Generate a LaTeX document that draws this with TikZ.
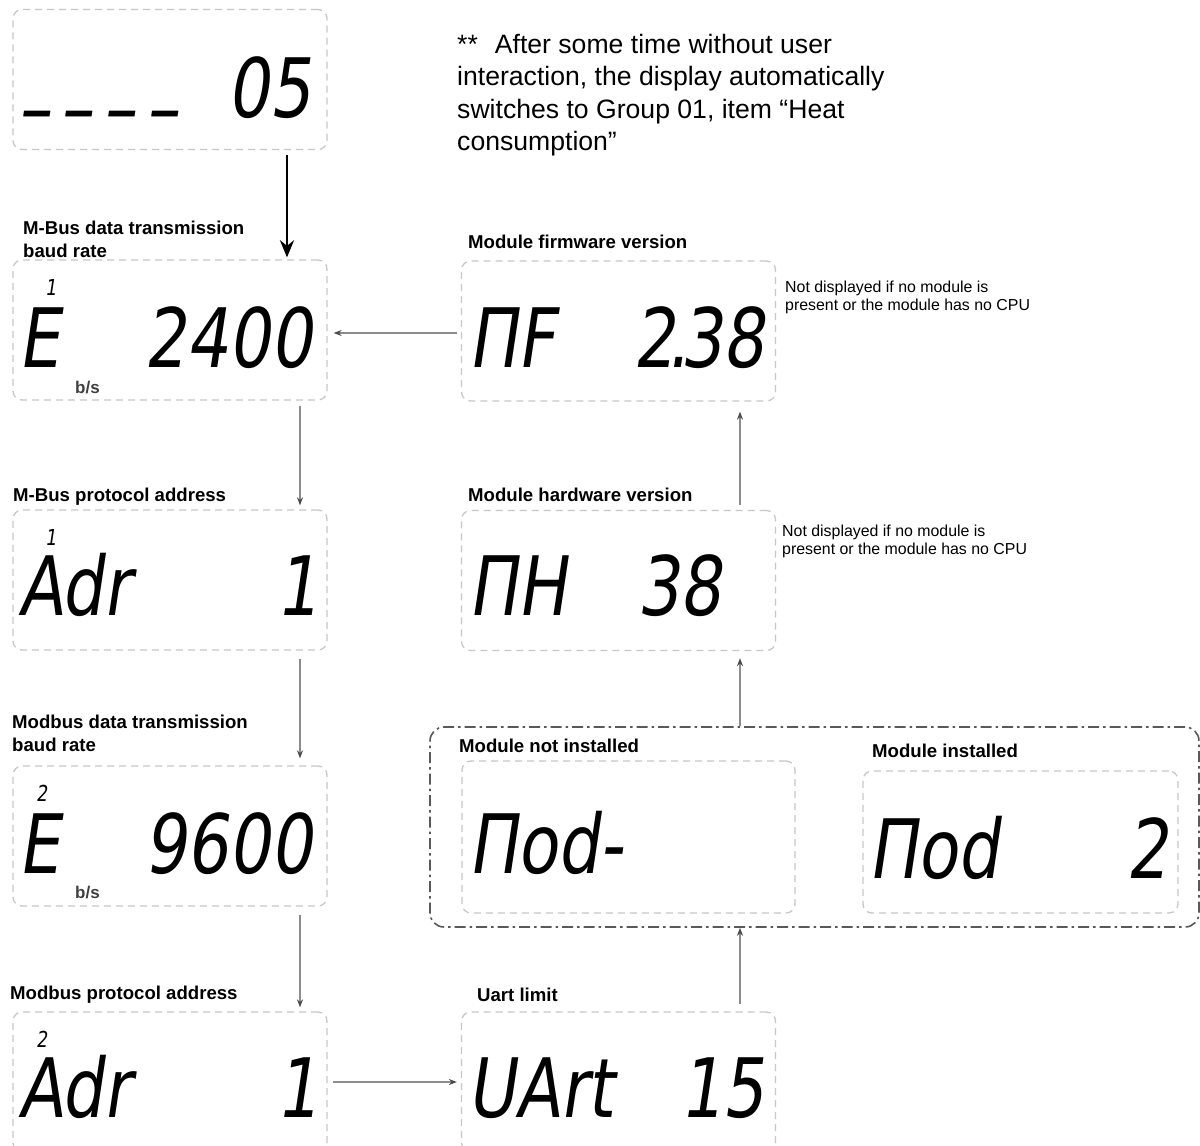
\documentclass[tikz,border=0pt]{standalone}
\usepackage{fontspec}
\setmainfont{Liberation Sans}
\newfontfamily\lcdfont[FakeSlant=0.15,FakeStretch=0.8]{DejaVu Sans}
\usetikzlibrary{arrows.meta, positioning, calc}

\begin{document}
\begin{tikzpicture}[
            x=1pt, y=-1pt,   % pixel grid of the screen shots, y runs down
            disp/.style   ={draw=black!22, line width=1.3pt, dash pattern=on 7pt off 5pt,
                    rounded corners=9pt, inner sep=0pt, minimum width=314pt, minimum height=140pt},
            grpbox/.style ={draw=black!65, line width=1.6pt, dash pattern=on 11pt off 4pt on 2.5pt off 4pt,
                    rounded corners=14pt, inner sep=0pt},
            lcd/.style    ={font=\lcdfont\fontsize{82}{82}\selectfont, inner sep=0pt},
            lcdsup/.style ={font=\lcdfont\fontsize{22}{22}\selectfont, inner sep=0pt, anchor=base west},
            unit/.style   ={font=\fontsize{17}{17}\selectfont\bfseries, text=black!75, inner sep=0pt, anchor=base west},
            head/.style   ={font=\fontsize{18.6}{23.5}\selectfont\bfseries, inner sep=0pt, align=left, anchor=north west},
            note/.style   ={font=\fontsize{15.9}{18}\selectfont, inner sep=0pt, align=left, anchor=north west},
            arr/.style    ={-{Stealth[length=8pt,width=6pt,color=black!70]}, line width=1.4pt, draw=black!45},
            bigarr/.style ={-{Stealth[length=17pt,width=14pt]}, line width=2.8pt, draw=black}
        ]

        \useasboundingbox (0,0) rectangle (1200,1146);
        \clip (0,0) rectangle (1200,1146);
        \fill[white] (0,0) rectangle (1200,1146);

        %% --- display boxes, left column ---
        \node[disp] (grp)     at (170,79.5) {};
        \node[disp] (baudM)   at (170,330)  {};
        \node[disp] (adrM)    at (170,580)  {};
        \node[disp] (baudMod) at (170,836)  {};
        \node[disp] (adrMod)  at (170,1082) {};

        %% --- display boxes, right column ---
        \node[disp] (mf)   at (618.5,331)   {};
        \node[disp] (mh)   at (618.5,580.5) {};
        \node[disp] (uart) at (618.5,1082)  {};
        % module alternatives share one dash-dot frame
        \node[grpbox, minimum width=769pt, minimum height=200pt] (modgrp) at (814.5,827) {};
        \node[disp, minimum width=333pt, minimum height=152pt] (noMod)   at (628.5,837) {};
        \node[disp, minimum width=315pt, minimum height=142pt] (withMod) at (1020.5,842) {};

        %% --- headings ---
        \node[head] (baudMhead)   at (23,220.4)   {M-Bus data transmission\\baud rate};
        \node[head] (adrMhead)    at (13,487.4)   {M-Bus protocol address};
        \node[head] (baudModhead) at (12,714.4)   {Modbus data transmission\\baud rate};
        \node[head] (adrModhead)  at (10,985.4)   {Modbus protocol address};
        \node[head] (mfhead)      at (468,234.4)  {Module firmware version};
        \node[head] (mhhead)      at (468,487.4)  {Module hardware version};
        \node[head] (noModhead)   at (459,738.4)  {Module not installed};
        \node[head] (withModhead) at (872,743.4)  {Module installed};
        \node[head] (uarthead)    at (477,987.4)  {Uart limit};

        %% --- remarks ---
        \node[note, font=\fontsize{26.6}{32.5}\selectfont] (timeout) at (457,33.6)
              {**\hspace{17pt}After some time without user\\interaction, the display automatically\\switches to Group 01, item “Heat\\consumption”};
        \node[note] (mfnote) at (785,280.6) {Not displayed if no module is\\present or the module has no CPU};
        \node[note] (mhnote) at (782,524.6) {Not displayed if no module is\\present or the module has no CPU};

        %% --- display contents ---
        % the four bottom bars are en dashes
        \node[lcd, anchor=base west] (grpDash) at (17,136) {–\kern10pt–\kern10pt–\kern10pt–};
        \node[lcd, anchor=base east] (grpVal)  at (311,117) {05};

        \node[lcdsup] (baudMsup) at (45,295) {1};
        \node[lcd, anchor=base west] (baudMkey) at (18,367) {E};
        \node[lcd, anchor=base east] (baudMval) at (312,367) {2400};
        \node[unit] (baudMunit) at (75,393) {b/s};

        \node[lcdsup] (adrMsup) at (45,545) {1};
        \node[lcd, anchor=base west] (adrMkey) at (18,615) {Adr};
        \node[lcd, anchor=base east] (adrMval) at (318,615) {1};

        \node[lcdsup] (baudModsup) at (36,801) {2};
        \node[lcd, anchor=base west] (baudModkey) at (18,873) {E};
        \node[lcd, anchor=base east] (baudModval) at (312,873) {9600};
        \node[unit] (baudModunit) at (75,898) {b/s};

        \node[lcdsup] (adrModsup) at (36,1047) {2};
        \node[lcd, anchor=base west] (adrModkey) at (18,1117) {Adr};
        \node[lcd, anchor=base east] (adrModval) at (318,1117) {1};

        \node[lcd, anchor=base west] (mfkey) at (468,367) {ΠF};
        \node[lcd, anchor=base east] (mfval) at (764,367) {2\kern-8pt.\kern-8pt38};

        \node[lcd, anchor=base west] (mhkey) at (468,615) {ΠH};
        \node[lcd, anchor=base east] (mhval) at (721,615) {38};

        \node[lcd, anchor=base west] (noModkey) at (468,873) {Πod-};

        \node[lcd, anchor=base west] (withModkey) at (868,878) {Πod};
        \node[lcd, anchor=base east] (withModval) at (1168,878) {2};

        \node[lcd, anchor=base west] (uartkey) at (467,1117) {UArt};
        \node[lcd, anchor=base east] (uartval) at (764,1117) {15};

        %% --- flow ---
        \draw[bigarr] ($(grp.south)+(117,5)$) -- ($(baudM.north)+(117,-2)$);
        \draw[arr] ($(mf.west)+(-4,2)$) -- ($(baudM.east)+(6,3)$);
        \draw[arr] ($(baudM.south)+(130,5)$)   -- ($(adrM.north)+(130,-4)$);
        \draw[arr] ($(adrM.south)+(130,8)$)    -- ($(baudMod.north)+(130,-7)$);
        \draw[arr] ($(baudMod.south)+(130,8)$) -- ($(adrMod.north)+(130,-4)$);
        \draw[arr] ($(adrMod.east)+(5,0)$) -- ($(uart.west)+(-4,0)$);

        % right column runs upwards on one vertical
        \coordinate (upX) at ($(uart.north)+(121.5,0)$);
        \draw[arr] ($(upX)+(0,-7)$) -- (upX |- modgrp.south);
        \draw[arr] (upX |- modgrp.north) -- ($(upX |- mh.south)+(0,7)$);
        \draw[arr] ($(upX |- mh.north)+(0,-5)$) -- ($(upX |- mf.south)+(0,10)$);

    \end{tikzpicture}
\end{document}
